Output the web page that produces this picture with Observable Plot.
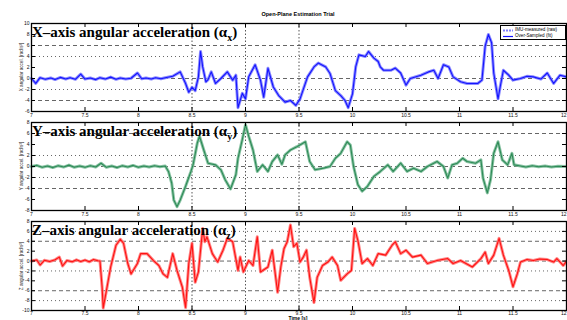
<!DOCTYPE html>
<html>
<head>
<meta charset="utf-8">
<script src="https://cdn.jsdelivr.net/npm/d3@7"></script>
<script src="https://cdn.jsdelivr.net/npm/@observablehq/plot@0.6"></script>
<style>
  html, body { margin: 0; padding: 0; background: white; }
  #wrap { position: relative; width: 567px; height: 320px; overflow: hidden; font-family: "Liberation Sans", Arial, sans-serif; }
  .abs { position: absolute; }
  .ptitle { font-family: "Liberation Serif", "Times New Roman", serif; font-weight: bold; font-size: 15px; line-height: 15px; color: #000; white-space: nowrap; }
  .ptitle sub { font-size: 10px; vertical-align: -4px; line-height: 0; }
  .ylab { font-size: 4.6px; white-space: nowrap; transform: translate(-50%, -50%) rotate(-90deg); color: #222; }
  .legend { border: 1px solid #000; background: #fff; font-size: 4.6px; line-height: 6px; padding: 1px 2px; box-sizing: border-box; }
  .legend div { display: flex; align-items: center; gap: 2px; white-space: nowrap; }
</style>
</head>
<body>
<div id="wrap"></div>
<script>
// ---------- data ----------
const xTicks = [7, 7.5, 8, 8.5, 9, 9.5, 10, 10.5, 11, 11.5, 12];
const yTicksX = [-6, -4, -2, 0, 2, 4, 6, 8, 10];
const yTicksY = [-8, -6, -4, -2, 0, 2, 4, 6, 8];
const yTicksZ = [-10, -8, -6, -4, -2, 0, 2, 4, 6, 8];
const eventTimes = [8.5, 9, 9.5];

const titleMain = "Open-Plane Estimation Trial";
const xLabel = "Time [s]";
const panelTitles = ["X\u2013axis angular acceleration (\u03B1", "Y\u2013axis angular acceleration (\u03B1", "Z\u2013axis angular acceleration (\u03B1"];
const panelSubs = ["x", "y", "z"];
const yLabels = ["X angular accel. [rad/s\u00B2]", "Y angular accel. [rad/s\u00B2]", "Z angular accel. [rad/s\u00B2]"];
const legendLabels = ["IMU-measured (raw)", "Over-Sampled (fit)"];

// [time s, angular acceleration]
const accX = [[7.00,0],[7.04,-0.9],[7.08,0.15],[7.13,-0.15],[7.18,0.1],[7.22,-0.2],[7.27,0.2],[7.32,-0.1],[7.36,0.15],[7.41,-0.15],[7.46,0.8],[7.50,-0.1],[7.55,0.1],[7.60,-0.2],[7.64,0.15],[7.69,-0.1],[7.74,0.25],[7.79,-0.15],[7.83,0.1],[7.88,-0.1],[7.93,0.05],[7.99,1.0],[8.03,-0.05],[8.07,0.1],[8.12,-0.1],[8.16,0.15],[8.21,-0.05],[8.25,0.15],[8.32,0.4],[8.39,1.2],[8.44,-0.9],[8.47,-2.5],[8.50,-1.6],[8.53,-2.2],[8.56,0.3],[8.58,4.9],[8.60,2.1],[8.63,-0.6],[8.65,-0.2],[8.68,1.2],[8.72,-0.9],[8.77,0],[8.83,1.2],[8.88,-0.3],[8.91,0.6],[8.93,-5.3],[8.97,-2.7],[9.00,-3.7],[9.03,0.3],[9.09,2.5],[9.14,-0.3],[9.17,-3.4],[9.21,1.85],[9.26,-1.55],[9.31,-3.1],[9.37,-4.3],[9.42,-4.0],[9.47,-4.9],[9.51,-3.7],[9.58,0.3],[9.64,2.1],[9.68,2.8],[9.75,2.1],[9.79,0.9],[9.84,-2.2],[9.89,-3.1],[9.93,-4.0],[9.96,-5.3],[10.00,-2.8],[10.03,2.1],[10.06,4.3],[10.12,4.0],[10.15,4.9],[10.20,3.7],[10.24,3.1],[10.26,2.1],[10.29,1.5],[10.36,1.5],[10.40,1.9],[10.45,1.0],[10.50,-1.2],[10.54,0],[10.64,0.6],[10.71,1.2],[10.76,1.5],[10.80,0],[10.85,2.5],[10.90,2.1],[10.94,0.3],[11.01,-0.6],[11.07,-0.9],[11.17,-0.9],[11.21,-0.3],[11.24,5.9],[11.27,8.0],[11.30,6.5],[11.32,1.0],[11.36,-3.7],[11.38,-1.55],[11.41,1.5],[11.46,0.6],[11.50,-0.3],[11.57,0],[11.63,0.4],[11.69,0.3],[11.76,-0.1],[11.82,1.0],[11.88,-0.9],[11.94,0.6],[12.00,0.3]];

const accY = [[7.00,0],[7.05,0.2],[7.10,-0.15],[7.15,0.1],[7.20,-0.2],[7.25,0.15],[7.30,-0.1],[7.35,0.25],[7.40,-0.15],[7.45,0.1],[7.50,-0.15],[7.55,0.15],[7.60,-0.1],[7.65,0.6],[7.70,-0.15],[7.75,0.1],[7.80,-0.2],[7.85,0.15],[7.90,-0.1],[7.95,0.2],[8.00,-0.15],[8.05,0.1],[8.10,-0.1],[8.15,0.15],[8.20,-0.05],[8.25,0.1],[8.28,-0.9],[8.31,-3.0],[8.33,-6.1],[8.36,-7.3],[8.39,-6.1],[8.44,-3.6],[8.49,-0.9],[8.51,0.3],[8.55,4.3],[8.57,5.5],[8.61,3.0],[8.65,0.6],[8.72,0.3],[8.77,-0.6],[8.81,-2.4],[8.86,-4.1],[8.91,-1.5],[8.93,1.5],[8.97,4.9],[9.00,7.6],[9.03,5.5],[9.07,3.0],[9.11,-0.9],[9.16,0.3],[9.21,-0.9],[9.25,0.9],[9.30,2.1],[9.34,0.4],[9.37,2.1],[9.42,3.0],[9.48,3.6],[9.56,4.5],[9.60,0.9],[9.65,-0.6],[9.73,-0.3],[9.79,0],[9.84,1.5],[9.89,2.4],[9.95,4.5],[9.98,3.9],[10.01,0],[10.05,-3.3],[10.09,-4.5],[10.14,-3.6],[10.20,-1.8],[10.26,-0.9],[10.33,0.3],[10.38,-0.9],[10.45,0.6],[10.51,-0.9],[10.57,-0.3],[10.64,-0.9],[10.70,0],[10.76,0.6],[10.79,0.9],[10.85,0],[10.89,-2.1],[10.93,0.3],[10.98,0.6],[11.03,1.5],[11.07,0.9],[11.15,0.6],[11.20,1.2],[11.22,-2.1],[11.26,-4.8],[11.29,-2.4],[11.32,2.4],[11.36,4.5],[11.40,1.2],[11.45,0.3],[11.49,2.4],[11.51,0.3],[11.57,0.1],[11.62,-0.1],[11.68,0.15],[11.74,-0.05],[11.80,0.1],[11.86,-0.1],[11.92,0.05],[12.00,0]];

const accZ = [[7.00,0],[7.05,0.2],[7.08,-0.8],[7.12,0.15],[7.17,-0.1],[7.22,0.25],[7.26,0.8],[7.29,-1.0],[7.33,0.1],[7.38,-0.15],[7.42,0.25],[7.46,-0.1],[7.50,0.2],[7.54,-0.15],[7.58,0.3],[7.62,0.05],[7.64,0],[7.66,-5.3],[7.67,-9.5],[7.70,-6.0],[7.74,-1.2],[7.79,3.2],[7.83,4.4],[7.86,3.6],[7.90,-0.5],[7.93,-2.6],[7.95,-1.9],[7.99,-0.5],[8.02,1.5],[8.08,1.5],[8.14,0.1],[8.19,-0.9],[8.23,-2.6],[8.27,-3.3],[8.32,1.5],[8.36,-1.9],[8.41,-5.3],[8.44,-9.4],[8.47,-0.5],[8.50,3.6],[8.53,-4.3],[8.56,-2.2],[8.60,6.6],[8.62,3.9],[8.64,4.9],[8.69,1.5],[8.74,-0.2],[8.79,2.2],[8.83,4.6],[8.88,3.9],[8.93,-1.9],[8.95,0.8],[8.98,-2.2],[9.03,0.1],[9.07,-0.9],[9.11,4.9],[9.14,-2.2],[9.21,-1.2],[9.25,2.2],[9.30,-6.3],[9.33,-1.2],[9.36,2.5],[9.39,3.9],[9.42,7.3],[9.45,2.9],[9.48,3.6],[9.51,-0.2],[9.54,0.8],[9.57,2.2],[9.60,-3.3],[9.64,-8.4],[9.67,-3.3],[9.72,-0.9],[9.77,-0.2],[9.81,0.8],[9.86,-0.9],[9.89,-3.9],[9.95,-2.6],[9.99,-1.9],[10.02,6.6],[10.05,4.2],[10.09,-0.5],[10.14,0.5],[10.19,-0.9],[10.24,1.5],[10.31,1.2],[10.37,3.2],[10.40,3.9],[10.45,1.5],[10.50,2.2],[10.56,0.8],[10.64,1.2],[10.70,-0.5],[10.79,0.1],[10.89,0.5],[10.94,-0.5],[11.01,0.1],[11.12,-1.2],[11.20,0.5],[11.24,1.8],[11.27,-0.5],[11.32,1.2],[11.37,4.6],[11.41,1.2],[11.46,-1.9],[11.50,-5.2],[11.54,-2.6],[11.57,-0.2],[11.63,0.3],[11.69,0.1],[11.75,0.4],[11.82,0.3],[11.88,-0.2],[11.91,0.5],[11.97,-0.9],[12.00,0]];

// gridlines per panel (value levels)
const gridDashX = [6, 0, -4], gridDotX = [4, -2];
const gridDashY = [6, 0, -4], gridDotY = [2, -2];
const gridDashZ = [4, 0, -6], gridDotZ = [6, -2, -8];

// ---------- layout ----------
const W = 567, ML = 31, MR = 1;
const panels = [
  {data: accX, domain: [-6, 10], ticks: yTicksX, dash: gridDashX, dot: gridDotX, light: "#8080ff", dark: "#1414ff", top: 0, h: 120, mt: 23, mb: 9, pad: 2},
  {data: accY, domain: [-8, 8], ticks: yTicksY, dash: gridDashY, dot: gridDotY, light: "#7dbd9a", dark: "#2e8b57", top: 111, h: 108, mt: 11, mb: 9, pad: 2},
  {data: accZ, domain: [-10, 8], ticks: yTicksZ, dash: gridDashZ, dot: gridDotZ, light: "#ff7a7a", dark: "#ff1212", top: 210, h: 110, mt: 11, mb: 10, pad: 1}
];

const wrap = document.getElementById("wrap");

panels.forEach((p, i) => {
  const iw = W - ML - MR, ih = p.h - p.mt - p.mb;
  const chart = Plot.plot({
    width: W, height: p.h,
    marginLeft: ML, marginRight: MR, marginTop: p.mt, marginBottom: p.mb,
    style: {background: "transparent", overflow: "visible", fontSize: "5px", fontFamily: "Liberation Sans, Arial, sans-serif", color: "#111"},
    x: {domain: [7, 12], ticks: xTicks, tickSize: 0, tickPadding: p.pad, label: null, tickFormat: d => String(d)},
    y: {domain: p.domain, ticks: p.ticks, tickSize: 0, tickPadding: 2, label: null, tickFormat: d => String(d)},
    marks: [
      Plot.ruleY(p.dash, {y: d => d, stroke: "#555", strokeWidth: 0.9, strokeDasharray: "4,3"}),
      Plot.ruleY(p.dot, {y: d => d, stroke: "#555", strokeWidth: 0.9, strokeDasharray: "1,3"}),
      Plot.ruleX(eventTimes, {x: d => d, stroke: "#444", strokeWidth: 0.9, strokeDasharray: "1.5,2"}),
      Plot.line(p.data, {x: d => d[0], y: d => d[1], stroke: p.light, strokeWidth: 3, strokeOpacity: 0.9}),
      Plot.line(p.data, {x: d => d[0], y: d => d[1], stroke: p.dark, strokeWidth: 1.1}),
      Plot.tickX(xTicks, {x: d => d, stroke: "#000", insetTop: ih - 4}),
      Plot.tickX(xTicks, {x: d => d, stroke: "#000", insetBottom: ih - 4}),
      Plot.tickY(p.ticks, {y: d => d, stroke: "#000", insetRight: iw - 4}),
      Plot.tickY(p.ticks, {y: d => d, stroke: "#000", insetLeft: iw - 4}),
      Plot.frame({stroke: "#000", strokeWidth: 1.3})
    ]
  });
  // keep the last x tick label inside the picture
  chart.querySelectorAll("text").forEach(el => {
    if (el.textContent === String(xTicks[xTicks.length - 1])) el.setAttribute("text-anchor", "end");
  });
  chart.classList.add("abs");
  chart.style.left = "0px";
  chart.style.top = p.top + "px";
  wrap.appendChild(chart);

  // panel title
  const t = document.createElement("div");
  t.className = "abs ptitle";
  t.style.left = "32px";
  t.style.top = (p.top + p.mt + 2) + "px";
  t.appendChild(document.createTextNode(panelTitles[i]));
  const sub = document.createElement("sub");
  sub.textContent = panelSubs[i];
  t.appendChild(sub);
  t.appendChild(document.createTextNode(")"));
  wrap.appendChild(t);

  // y label
  const yl = document.createElement("div");
  yl.className = "abs ylab";
  yl.style.left = "20.5px";
  yl.style.top = (p.top + p.mt + ih / 2) + "px";
  yl.textContent = yLabels[i];
  wrap.appendChild(yl);
});

// main title
const mt = document.createElement("div");
mt.className = "abs";
mt.style.cssText = "left:298px;top:11px;transform:translateX(-50%);font-size:5.5px;font-weight:bold;white-space:nowrap;";
mt.textContent = titleMain;
wrap.appendChild(mt);

// x label
const xl = document.createElement("div");
xl.className = "abs";
xl.style.cssText = "left:298px;top:316px;transform:translateX(-50%);font-size:5px;line-height:5px;font-weight:bold;white-space:nowrap;";
xl.textContent = xLabel;
wrap.appendChild(xl);

// legend
const lg = document.createElement("div");
lg.className = "abs legend";
lg.style.cssText += "left:500px;top:25px;width:66px;height:15px;";
const styles = [{c: panels[0].light, dash: "2,1", w: 2}, {c: panels[0].dark, dash: "none", w: 1.2}];
legendLabels.forEach((lab, k) => {
  const row = document.createElement("div");
  row.innerHTML = `<svg width="10" height="5"><line x1="0" y1="2.5" x2="10" y2="2.5" stroke="${styles[k].c}" stroke-width="${styles[k].w}" stroke-dasharray="${styles[k].dash}"/></svg><span></span>`;
  row.querySelector("span").textContent = lab;
  lg.appendChild(row);
});
wrap.appendChild(lg);
</script>
</body>
</html>
